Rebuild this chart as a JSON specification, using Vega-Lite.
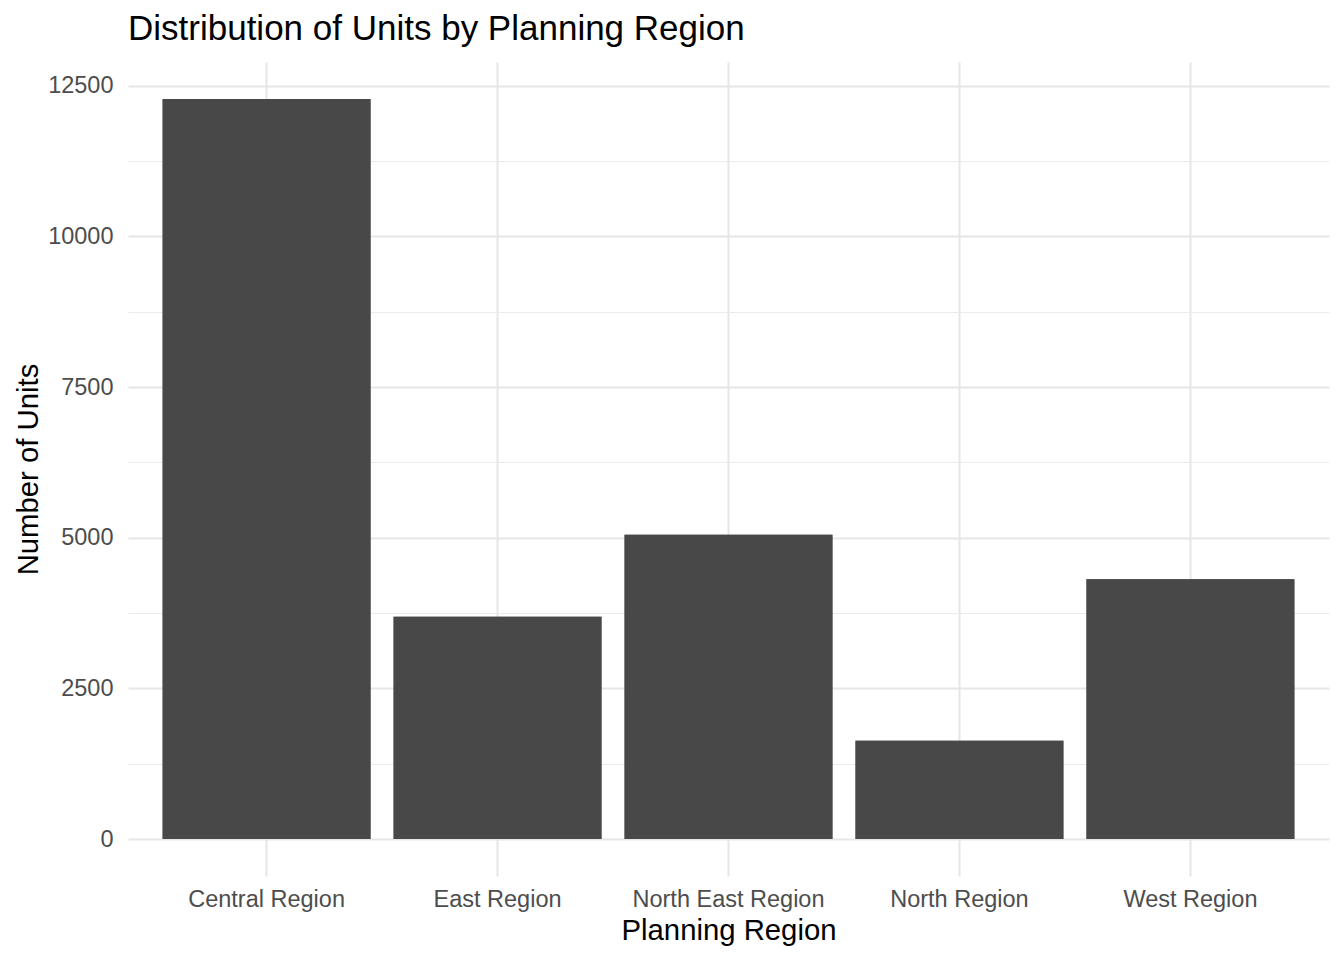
{
  "$schema": "https://vega.github.io/schema/vega-lite/v6.json",
  "width": 1201,
  "height": 814,
  "autosize": {"type": "none"},
  "padding": {"left": 128, "top": 62, "right": 15, "bottom": 84},
  "background": "white",
  "title": {
    "text": "Distribution of Units by Planning Region",
    "anchor": "start",
    "frame": "group",
    "font": "Liberation Sans",
    "fontSize": 35,
    "fontWeight": "normal",
    "color": "#000000",
    "offset": 15,
    "dy": 28,
    "baseline": "alphabetic"
  },
  "data": {
    "values": [
      {"region": "Central Region", "units": 12280},
      {"region": "East Region", "units": 3690},
      {"region": "North East Region", "units": 5050},
      {"region": "North Region", "units": 1630},
      {"region": "West Region", "units": 4310}
    ]
  },
  "encoding": {
    "x": {
      "field": "region",
      "type": "nominal",
      "sort": null,
      "scale": {"paddingInner": 0.1, "paddingOuter": 0.15},
      "axis": {
        "title": "Planning Region",
        "bandPosition": 0.5,
        "labelAngle": 0,
        "labelLimit": 0,
        "labelFont": "Liberation Sans",
        "labelFontSize": 23.5,
        "labelColor": "#4D4D4D",
        "labelPadding": 11,
        "ticks": false,
        "tickSize": 0,
        "domain": false,
        "grid": true,
        "gridColor": "#E6E6E6",
        "gridWidth": 2,
        "titleFont": "Liberation Sans",
        "titleFontSize": 29.3,
        "titleFontWeight": "normal",
        "titleColor": "#000000",
        "titlePadding": 6
      }
    }
  },
  "layer": [
    {
      "mark": {"type": "bar", "color": "#484848"},
      "encoding": {
        "y": {
          "field": "units",
          "type": "quantitative",
          "scale": {"domain": [-614, 12894], "nice": false, "zero": false},
          "axis": {
            "orient": "left",
            "title": null,
            "values": [1250, 3750, 6250, 8750, 11250],
            "labels": false,
            "ticks": false,
            "tickSize": 0,
            "domain": false,
            "grid": true,
            "gridColor": "#EBEBEB",
            "gridWidth": 1.1
          }
        }
      }
    },
    {
      "mark": {"type": "bar", "color": "#484848"},
      "encoding": {
        "y": {
          "field": "units",
          "type": "quantitative",
          "scale": {"domain": [-614, 12894], "nice": false, "zero": false},
          "axis": {
            "orient": "left",
            "title": "Number of Units",
            "values": [0, 2500, 5000, 7500, 10000, 12500],
            "format": "d",
            "labelFont": "Liberation Sans",
            "labelFontSize": 23.5,
            "labelColor": "#4D4D4D",
            "labelPadding": 15,
            "ticks": false,
            "tickSize": 0,
            "domain": false,
            "grid": true,
            "gridColor": "#E6E6E6",
            "gridWidth": 2,
            "titleFont": "Liberation Sans",
            "titleFontSize": 29.3,
            "titleFontWeight": "normal",
            "titleColor": "#000000",
            "titlePadding": 4
          }
        }
      }
    }
  ],
  "resolve": {"axis": {"y": "independent"}},
  "config": {"view": {"stroke": null}, "font": "Liberation Sans"}
}
